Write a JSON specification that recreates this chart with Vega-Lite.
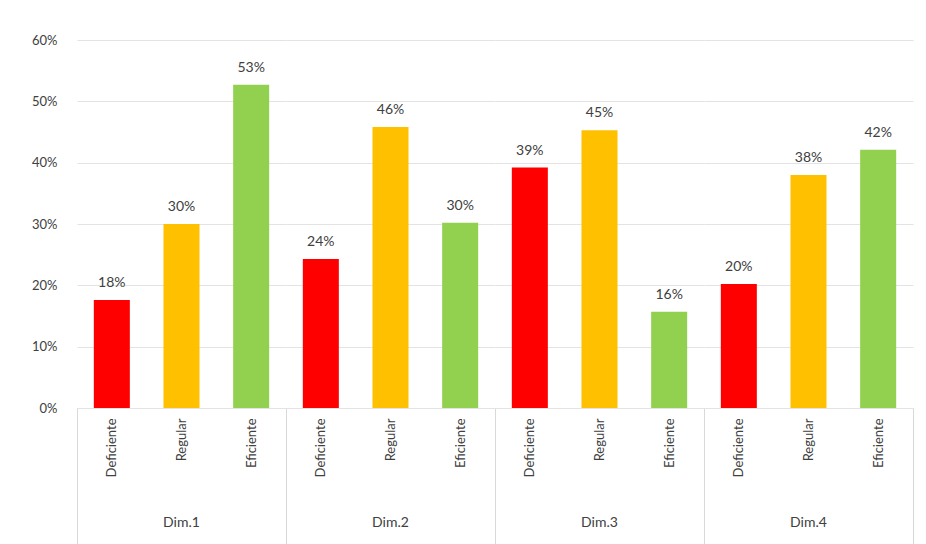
{
  "$schema": "https://vega.github.io/schema/vega-lite/v6.json",
  "padding": {"left": 31, "top": 34, "right": 0, "bottom": 0},
  "background": "white",
  "data": {"values": [
    {"dim": "Dim.1", "cat": "Deficiente", "v": 0.176},
    {"dim": "Dim.1", "cat": "Regular", "v": 0.300},
    {"dim": "Dim.1", "cat": "Eficiente", "v": 0.527},
    {"dim": "Dim.2", "cat": "Deficiente", "v": 0.243},
    {"dim": "Dim.2", "cat": "Regular", "v": 0.458},
    {"dim": "Dim.2", "cat": "Eficiente", "v": 0.302},
    {"dim": "Dim.3", "cat": "Deficiente", "v": 0.392},
    {"dim": "Dim.3", "cat": "Regular", "v": 0.453},
    {"dim": "Dim.3", "cat": "Eficiente", "v": 0.157},
    {"dim": "Dim.4", "cat": "Deficiente", "v": 0.202},
    {"dim": "Dim.4", "cat": "Regular", "v": 0.380},
    {"dim": "Dim.4", "cat": "Eficiente", "v": 0.421}
  ]},
  "facet": {
    "column": {
      "field": "dim", "type": "nominal",
      "header": {"title": null, "labelOrient": "bottom", "labelFont": "Lato", "labelFontSize": 14, "labelColor": "#404040", "labelPadding": -29}
    }
  },
  "spacing": 0,
  "spec": {
    "width": 209,
    "height": 368,
    "layer": [
      {
        "mark": {"type": "bar", "width": {"band": 0.517}},
        "encoding": {
          "x": {"field": "cat", "type": "nominal", "sort": ["Deficiente", "Regular", "Eficiente"],
                "scale": {"paddingInner": 0, "paddingOuter": 0},
                "axis": {"title": null, "labelAngle": -90, "labelAlign": "right", "labelBaseline": "middle",
                         "tickBand": "extent", "tickSize": 136, "labelPadding": -126,
                         "tickColor": {"condition": {"test": "datum.value == 'Eficiente' || !datum.value", "value": "#d9d9d9"}, "value": "transparent"},
                         "domainColor": "#d9d9d9", "labelFont": "Lato", "labelFontSize": 13, "labelColor": "#404040"}},
          "y": {"field": "v", "type": "quantitative", "scale": {"domain": [0, 0.6]},
                "axis": {"title": null, "format": ".0%", "values": [0, 0.1, 0.2, 0.3, 0.4, 0.5, 0.6], "ticks": false, "domain": false, "gridColor": "#e3e3e3", "labelPadding": 20, "labelFont": "Lato", "labelFontSize": 13, "labelColor": "#404040"}},
          "color": {"field": "cat", "type": "nominal", "legend": null,
                    "scale": {"domain": ["Deficiente", "Regular", "Eficiente"], "range": ["#ff0000", "#ffc000", "#92d050"]}}
        }
      },
      {
        "mark": {"type": "text", "dy": -17, "font": "Lato", "fontSize": 14, "color": "#404040"},
        "encoding": {
          "x": {"field": "cat", "type": "nominal", "sort": ["Deficiente", "Regular", "Eficiente"]},
          "y": {"field": "v", "type": "quantitative"},
          "text": {"field": "v", "type": "quantitative", "format": ".0%"}
        }
      }
    ]
  },
  "config": {"view": {"stroke": null}}
}
